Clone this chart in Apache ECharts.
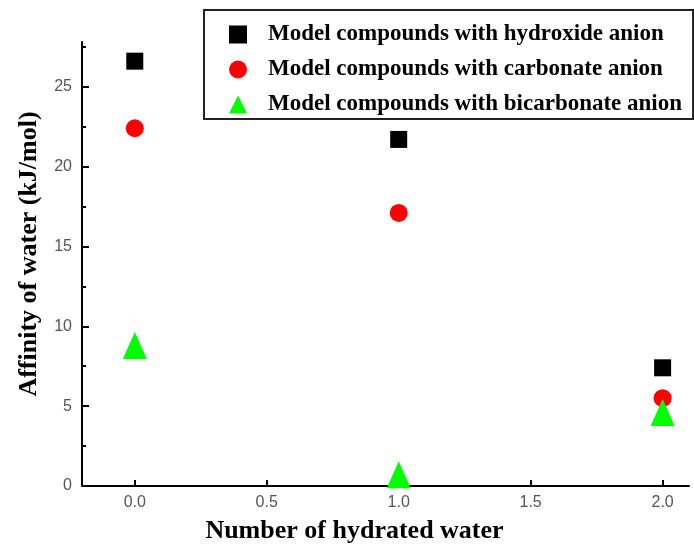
<!DOCTYPE html>
<html>
<head>
<meta charset="utf-8">
<script src="https://cdn.jsdelivr.net/npm/echarts@6/dist/echarts.min.js"></script>
<style>
html,body{margin:0;padding:0;background:#fff;}
#c{width:694px;height:549px;}
</style>
</head>
<body>
<div id="c"></div>
<script>
var xValues = [0, 1, 2];
var hydroxide = [26.6, 21.7, 7.4];
var carbonate = [22.4, 17.1, 5.5];
var bicarbonate = [8.8, 0.7, 4.6];
var seriesNames = [
  'Model compounds with hydroxide anion',
  'Model compounds with carbonate anion',
  'Model compounds with bicarbonate anion'
];
var xTicks = [0, 0.5, 1, 1.5, 2];
var yMajorTicks = [0, 5, 10, 15, 20, 25];
var yMinorTicks = [0, 2.5, 5, 7.5, 10, 12.5, 15, 17.5, 20, 22.5, 25, 27.5];

function pairs(vals) {
  return xValues.map(function (x, i) { return [x, vals[i]]; });
}

var serif = '"Liberation Serif", "Times New Roman", serif';
var sans = '"Liberation Sans", Arial, sans-serif';

var chart = echarts.init(document.getElementById('c'), null, {renderer: 'canvas'});
chart.setOption({
  backgroundColor: '#fff',
  animation: false,
  grid: {left: 82, right: 5, top: 42, bottom: 59, containLabel: false},
  legend: {
    orient: 'vertical',
    left: 204,
    top: 10,
    padding: [13, 11, 3, 25],
    itemWidth: 18,
    itemHeight: 18,
    itemGap: 12,
    borderColor: '#222',
    borderWidth: 2,
    backgroundColor: '#fff',
    textStyle: {fontFamily: serif, fontWeight: 'bold', fontSize: 23, color: '#000', padding: [0, 0, 0, 16]},
    data: seriesNames
  },
  xAxis: {
    type: 'value',
    min: -0.2,
    max: 2.1,
    name: 'Number of hydrated water',
    nameLocation: 'middle',
    nameGap: 32,
    nameTextStyle: {fontFamily: serif, fontWeight: 'bold', fontSize: 26, color: '#000', padding: [0, 62, 0, 0]},
    axisLine: {show: true, onZero: false, lineStyle: {color: '#000', width: 2}},
    axisTick: {show: true, inside: true, length: 6, customValues: xTicks, lineStyle: {color: '#000', width: 2}},
    axisLabel: {
      customValues: xTicks, margin: 9, fontFamily: sans, fontSize: 16, color: '#555',
      formatter: function (v) { return Number(v).toFixed(1); }
    },
    splitLine: {show: false}
  },
  yAxis: [{
    type: 'value',
    min: 0,
    max: 27.8,
    position: 'left',
    axisLine: {show: true, onZero: false, lineStyle: {color: '#000', width: 2}},
    axisTick: {show: true, inside: true, length: 4, customValues: yMinorTicks, lineStyle: {color: '#000', width: 2}},
    axisLabel: {show: false},
    splitLine: {show: false}
  }, {
    type: 'value',
    min: 0,
    max: 27.8,
    position: 'left',
    offset: 0,
    name: 'Affinity of water (kJ/mol)',
    nameLocation: 'middle',
    nameGap: 40,
    nameTextStyle: {fontFamily: serif, fontWeight: 'bold', fontSize: 26, color: '#000', padding: [0, 0, 0, 20]},
    axisLine: {show: false, onZero: false},
    axisTick: {show: true, inside: true, length: 7, customValues: yMajorTicks, lineStyle: {color: '#000', width: 2}},
    axisLabel: {customValues: yMajorTicks, margin: 10, fontFamily: sans, fontSize: 16, color: '#555'},
    splitLine: {show: false}
  }],
  series: [{
    name: seriesNames[0],
    type: 'scatter',
    symbol: 'rect',
    symbolSize: 17,
    itemStyle: {color: '#000', opacity: 1},
    data: pairs(hydroxide)
  }, {
    name: seriesNames[1],
    type: 'scatter',
    symbol: 'circle',
    symbolSize: 18,
    itemStyle: {color: '#ff0000', opacity: 1},
    data: pairs(carbonate)
  }, {
    name: seriesNames[2],
    type: 'scatter',
    symbol: 'triangle',
    symbolSize: [24, 27],
    itemStyle: {color: '#00ff00', opacity: 1},
    data: pairs(bicarbonate)
  }]
});
</script>
</body>
</html>
